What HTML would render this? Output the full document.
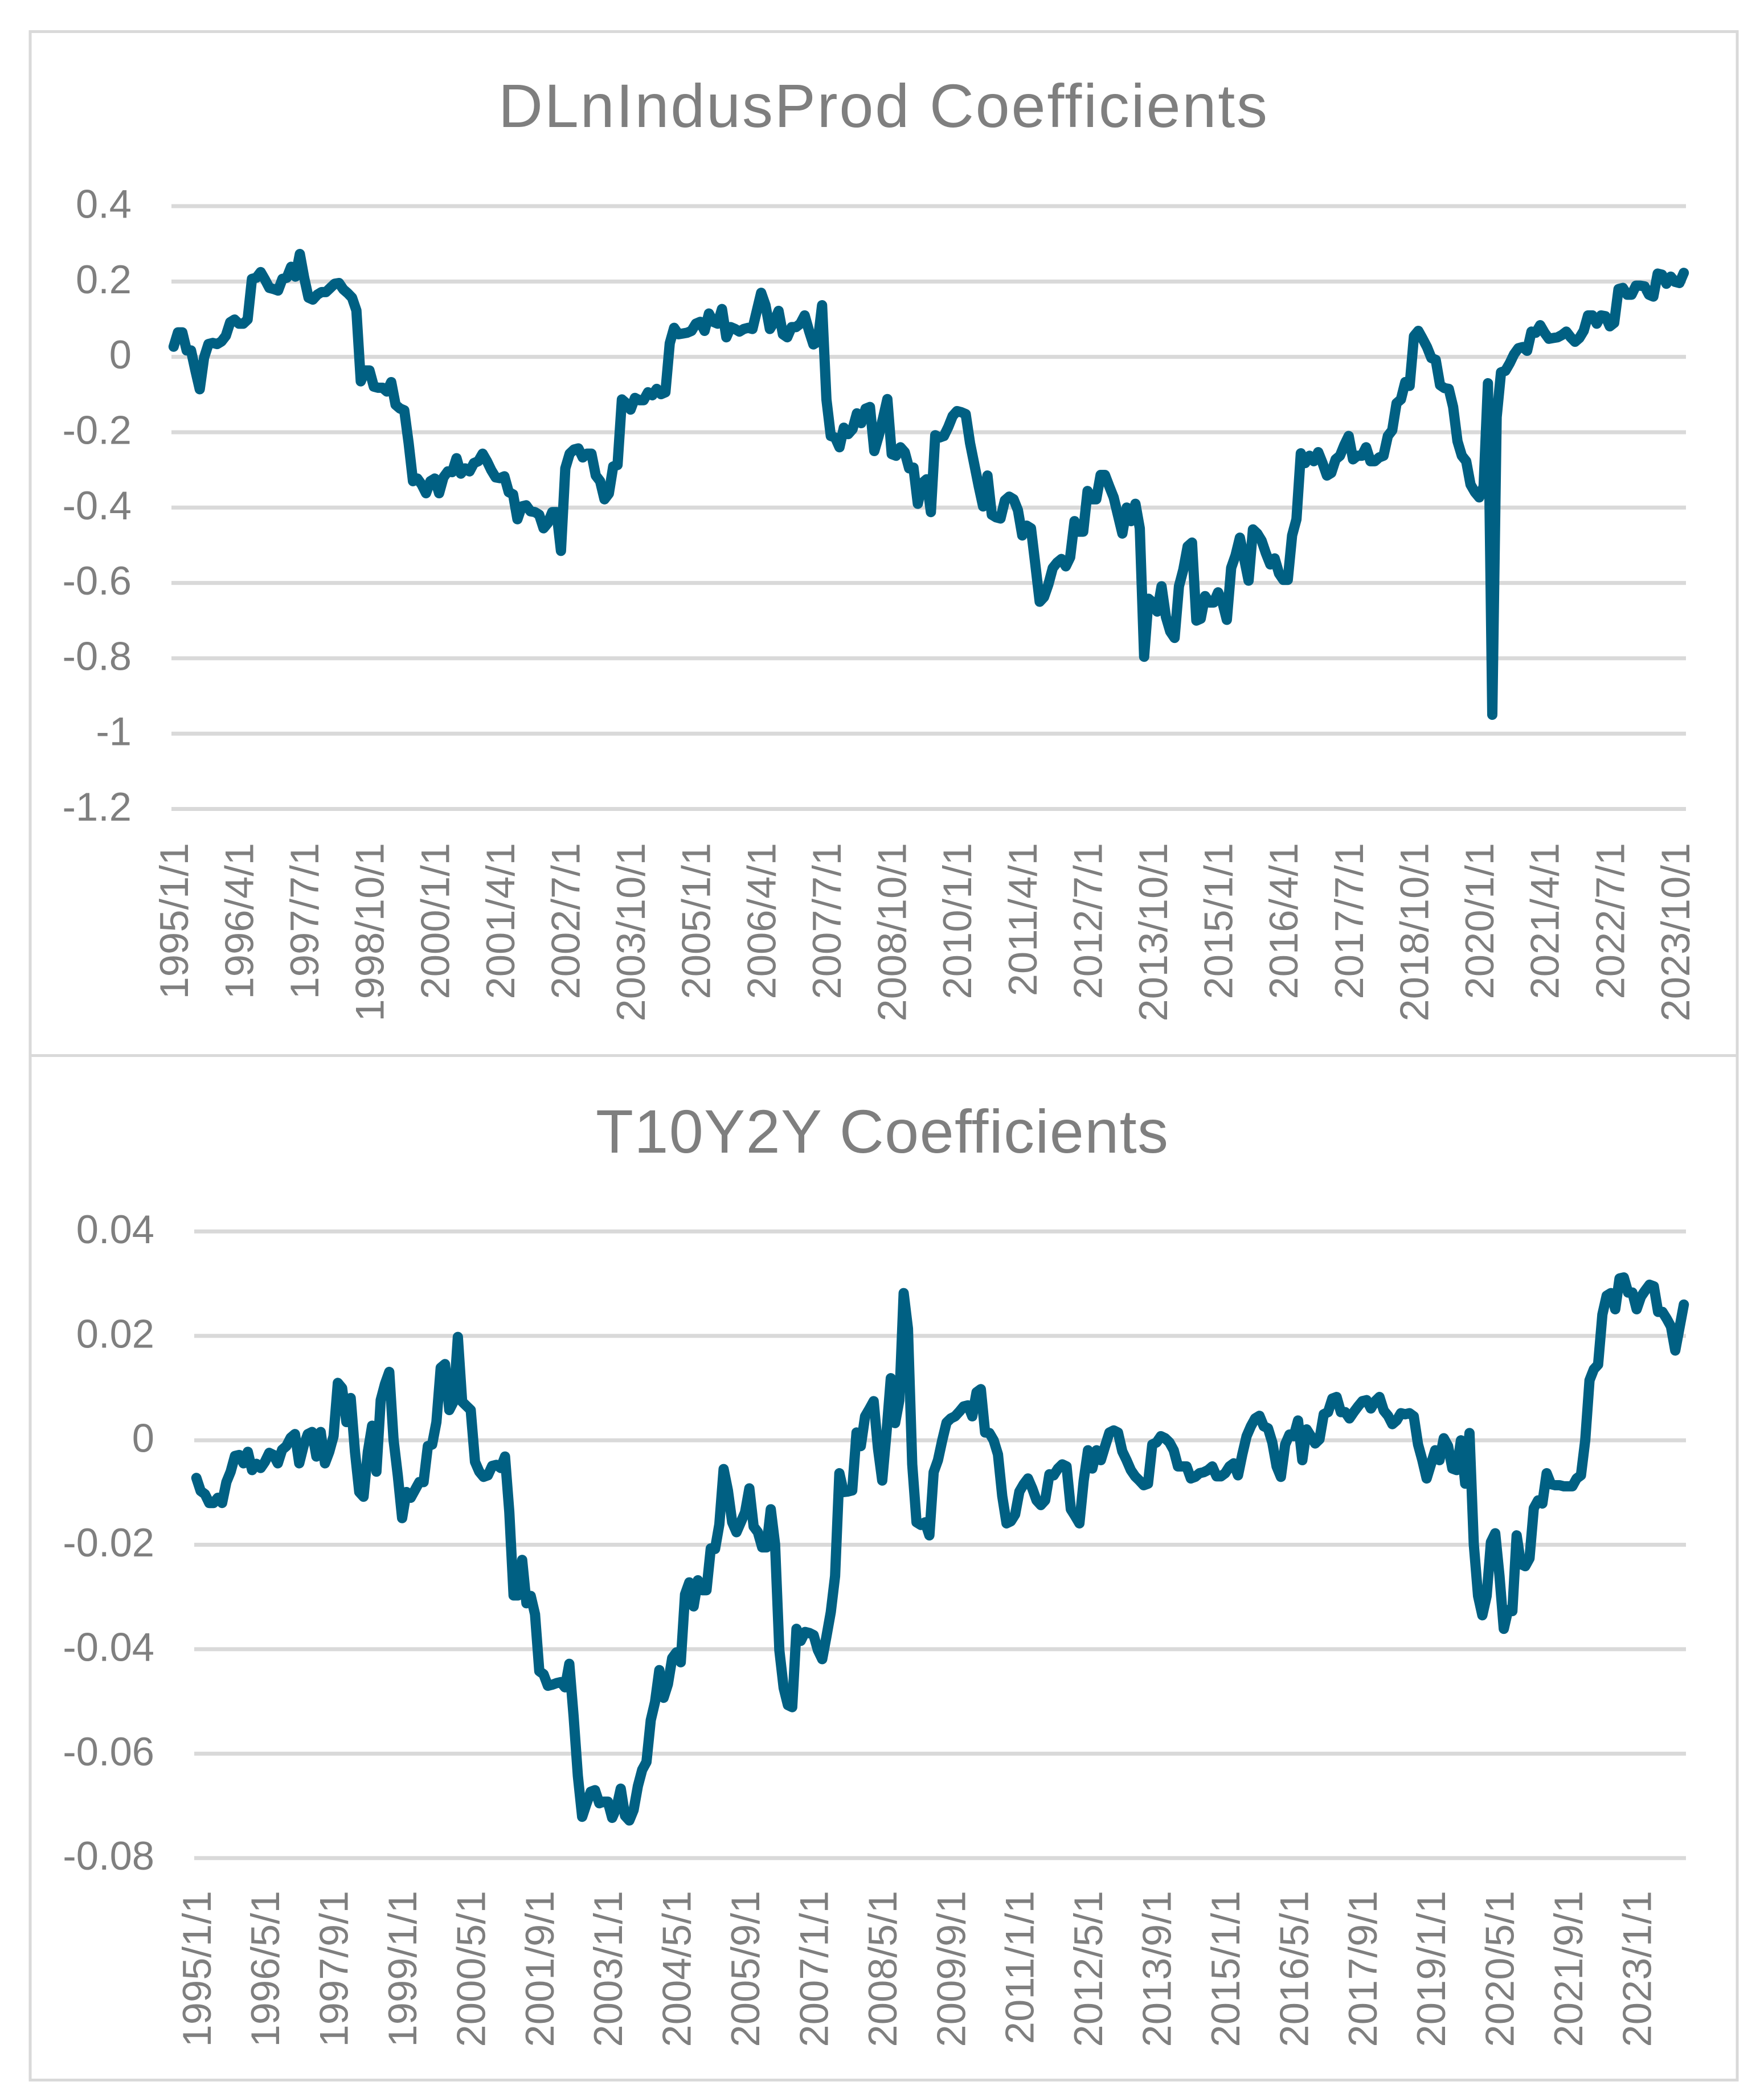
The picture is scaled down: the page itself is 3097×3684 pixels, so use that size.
<!DOCTYPE html>
<html lang="en">
<head>
<meta charset="utf-8">
<title>Coefficient charts</title>
<style>
html,body{margin:0;padding:0;background:#fff;}
svg{display:block;font-family:"Liberation Sans",Arial,sans-serif;}
text{fill:#7f7f7f;}
</style>
</head>
<body>
<svg id="figure" xmlns="http://www.w3.org/2000/svg" width="3097" height="3684" viewBox="0 0 3097 3684">
  <rect x="0" y="0" width="3097" height="3684" fill="#ffffff"/>
  <rect x="53" y="55.5" width="2997" height="1798" fill="none" stroke="#d9d9d9" stroke-width="5"/>
  <rect x="53" y="1853.5" width="2997" height="1799" fill="none" stroke="#d9d9d9" stroke-width="5"/>
  <text x="875" y="223" font-size="108" textLength="1350" lengthAdjust="spacing">DLnIndusProd Coefficients</text>
  <text x="1046" y="2024" font-size="108" textLength="1005" lengthAdjust="spacing">T10Y2Y Coefficients</text>
  <g id="chart-a"></g>
  <g id="chart-b"></g>
</svg>
<script>
const indusProdXTickLabels = ["1995/1/1","1996/4/1","1997/7/1","1998/10/1","2000/1/1","2001/4/1","2002/7/1","2003/10/1","2005/1/1","2006/4/1","2007/7/1","2008/10/1","2010/1/1","2011/4/1","2012/7/1","2013/10/1","2015/1/1","2016/4/1","2017/7/1","2018/10/1","2020/1/1","2021/4/1","2022/7/1","2023/10/1"];
const indusProdYTicks = [0.4,0.2,0,-0.2,-0.4,-0.6,-0.8,-1,-1.2];
const indusProdValues = [
.027,.065,.065,.017,.017,-.036,-.086,-.002,.034,.037,
.034,.041,.056,.092,.099,.088,.088,.099,.207,.21,
.225,.205,.183,.18,.176,.207,.21,.239,.213,.273,
.21,.157,.152,.165,.172,.172,.183,.194,.196,.179,
.169,.157,.123,-.065,-.036,-.036,-.079,-.082,-.082,-.092,
-.067,-.127,-.137,-.142,-.229,-.33,-.323,-.339,-.362,-.33,
-.323,-.362,-.32,-.304,-.306,-.269,-.31,-.296,-.304,-.282,
-.277,-.257,-.277,-.301,-.32,-.322,-.317,-.359,-.365,-.431,
-.397,-.394,-.41,-.412,-.419,-.455,-.441,-.412,-.412,-.515,
-.296,-.257,-.246,-.243,-.267,-.257,-.257,-.315,-.33,-.378,
-.363,-.291,-.287,-.113,-.123,-.14,-.109,-.115,-.115,-.094,
-.102,-.085,-.099,-.094,.036,.077,.06,.062,.064,.069,
.088,.093,.069,.115,.093,.088,.127,.052,.079,.074,
.067,.074,.077,.074,.122,.17,.137,.074,.093,.122,
.06,.052,.079,.079,.088,.11,.069,.033,.04,.137,
-.113,-.21,-.214,-.24,-.188,-.205,-.192,-.15,-.176,-.1375,
-.133,-.25,-.21,-.163,-.112,-.258,-.2625,-.24,-.253,-.296,
-.294,-.39,-.335,-.325,-.412,-.208,-.214,-.21,-.186,-.157,
-.144,-.147,-.152,-.229,-.2865,-.344,-.397,-.315,-.419,-.426,
-.429,-.381,-.371,-.378,-.407,-.474,-.448,-.455,-.551,-.65,
-.6375,-.604,-.5606,-.546,-.5365,-.556,-.532,-.436,-.464,-.464,
-.356,-.378,-.378,-.3135,-.3135,-.344,-.373,-.421,-.469,-.4,
-.436,-.39,-.455,-.796,-.642,-.652,-.676,-.609,-.69,-.729,
-.746,-.609,-.565,-.503,-.493,-.7,-.695,-.635,-.652,-.652,
-.625,-.652,-.698,-.56,-.527,-.48,-.5365,-.594,-.458,-.469,
-.488,-.522,-.551,-.535,-.575,-.592,-.592,-.474,-.431,-.256,
-.282,-.2625,-.277,-.253,-.282,-.315,-.308,-.272,-.2625,-.234,
-.21,-.272,-.2625,-.2625,-.24,-.277,-.277,-.267,-.2625,-.21,
-.195,-.123,-.113,-.067,-.077,.055,.069,.048,.026,-.003,
-.008,-.075,-.083,-.085,-.133,-.224,-.2625,-.277,-.339,-.359,
-.373,-.344,-.07,-.95,-.16,-.041,-.037,-.017,.007,.023,
.026,.016,.067,.064,.084,.064,.048,.05,.052,.058,
.067,.052,.04,.05,.069,.11,.11,.088,.11,.108,
.081,.09,.18,.183,.165,.165,.189,.189,.187,.165,
.16,.221,.218,.194,.213,.199,.196,.223
];

const spreadXTickLabels = ["1995/1/1","1996/5/1","1997/9/1","1999/1/1","2000/5/1","2001/9/1","2003/1/1","2004/5/1","2005/9/1","2007/1/1","2008/5/1","2009/9/1","2011/1/1","2012/5/1","2013/9/1","2015/1/1","2016/5/1","2017/9/1","2019/1/1","2020/5/1","2021/9/1","2023/1/1"];
const spreadYTicks = [0.04,0.02,0,-0.02,-0.04,-0.06,-0.08];
const spreadValues = [
-.0072,-.0097,-.0103,-.012,-.012,-.011,-.012,-.008,-.006,-.003,
-.0028,-.0044,-.0022,-.0057,-.0045,-.0053,-.0041,-.0024,-.0028,-.0044,
-.0018,-.0011,.0005,.0012,-.0044,-.0011,.0012,.0016,-.0031,.0016,
-.0044,-.0022,.0008,.011,.01,.0035,.0081,-.0022,-.0099,-.0108,
-.0022,.0028,-.006,.0077,.0108,.0131,.0001,-.0068,-.0149,-.0099,
-.011,-.0095,-.008,-.008,-.0011,-.0008,.0035,.0139,.0146,.0058,
.0074,.0198,.0074,.0066,.0058,-.0041,-.006,-.007,-.0067,-.0049,
-.0047,-.0053,-.0031,-.0137,-.0297,-.0297,-.0229,-.0312,-.0298,-.0333,
-.0442,-.0448,-.047,-.0468,-.0465,-.0463,-.0473,-.0428,-.0528,-.0643,
-.0721,-.0696,-.0673,-.067,-.0695,-.0692,-.0692,-.0723,-.0704,-.0667,
-.0719,-.0728,-.0708,-.0662,-.0631,-.0616,-.0536,-.0501,-.044,-.0493,
-.0467,-.0417,-.0406,-.0425,-.0295,-.0272,-.0318,-.0268,-.0287,-.0287,
-.0207,-.0208,-.0161,-.0055,-.0096,-.0157,-.0176,-.0157,-.0138,-.0092,
-.0165,-.0176,-.0205,-.0205,-.0132,-.0199,-.0402,-.0474,-.0507,-.0511,
-.0361,-.0384,-.0367,-.0369,-.0373,-.0402,-.0419,-.0375,-.0329,-.026,
-.0063,-.0099,-.0098,-.0096,.0015,-.0011,.0046,.006,.0075,-.0015,
-.0077,.0015,.0119,.0033,.0077,.0282,.0214,-.0046,-.0157,-.0162,
-.0157,-.0182,-.0061,-.0038,0,.0034,.0042,.0046,.0055,.0065,
.0067,.0046,.0092,.0098,.0015,.0014,0,-.0027,-.0107,-.0159,
-.0155,-.0142,-.0098,-.0084,-.0073,-.0092,-.0115,-.0124,-.0115,-.0065,
-.0067,-.0054,-.0046,-.005,-.0132,-.0145,-.0159,-.0077,-.0019,-.0054,
-.0019,-.0038,-.0011,.0015,.0019,.0015,-.0021,-.0038,-.0057,-.0069,
-.0077,-.0086,-.0083,-.0008,-.0004,.0008,.0004,-.0004,-.0019,-.005,
-.005,-.005,-.0073,-.007,-.0063,-.0061,-.0057,-.005,-.0069,-.0069,
-.0063,-.005,-.0044,-.0067,-.0027,.0008,.0027,.0042,.0047,.0027,
.0023,-.0004,-.005,-.007,-.0008,.0011,.0008,.0038,-.0038,.0021,
.0008,-.0006,.0002,.005,.0054,.008,.0083,.0054,.0054,.0042,
.0054,.0065,.0075,.0077,.0061,.0075,.0083,.0057,.0047,.0031,
.0038,.0052,.005,.0052,.0046,-.0008,-.0038,-.0073,-.0046,-.0019,
-.0038,.0004,-.0011,-.0054,-.0057,0,-.0083,.0014,-.0199,-.0298,
-.0335,-.0298,-.0195,-.0178,-.026,-.0361,-.0325,-.0327,-.0182,-.0237,
-.0241,-.0226,-.013,-.0115,-.0121,-.0063,-.0084,-.0086,-.0086,-.0088,
-.0088,-.0088,-.0073,-.0067,0,.0115,.0136,.0145,.0241,.0277,
.0282,.0251,.031,.0312,.0283,.0283,.0251,.0275,.0287,.0298,
.0295,.0246,.0246,.0233,.0218,.0172,.0216,.026
];

const NS = "http://www.w3.org/2000/svg";

function svgEl(tag, parent) {
  const el = document.createElementNS(NS, tag);
  parent.appendChild(el);
  return el;
}

function drawChart(group, values, yTicks, xTickLabels, labelStep, box) {
  const yMax = Math.max.apply(null, yTicks);
  const yMin = Math.min.apply(null, yTicks);
  const slot = (box.right - box.left) / values.length;
  const xScale = function (i) { return box.left + slot * (i + 0.5); };
  const yScale = function (v) { return box.top + (yMax - v) / (yMax - yMin) * (box.bottom - box.top); };

  yTicks.forEach(function (tick) {
    const y = yScale(tick);
    const grid = svgEl("line", group);
    
    
    grid.setAttribute("x1", box.left);
    grid.setAttribute("x2", box.right);
    grid.setAttribute("y1", y);
    grid.setAttribute("y2", y);
    grid.setAttribute("stroke", "#d9d9d9");
    grid.setAttribute("stroke-width", "7");

    const label = svgEl("text", group);
    
    
    label.setAttribute("x", box.yLabelRight);
    label.setAttribute("y", y + 20.5);
    label.setAttribute("text-anchor", "end");
    label.setAttribute("font-size", "70.5");
    label.textContent = String(tick);
  });

  xTickLabels.forEach(function (text, n) {
    const x = xScale(n * labelStep) + 25;
    const label = svgEl("text", group);
    
    
    label.setAttribute("transform", "translate(" + x + "," + box.xLabelTop + ") rotate(-90)");
    label.setAttribute("text-anchor", "end");
    label.setAttribute("font-size", "70.5");
    label.textContent = text;
  });

  const series = svgEl("polyline", group);
  
  
  series.setAttribute("points", values.map(function (v, i) {
    return xScale(i).toFixed(2) + "," + yScale(v).toFixed(2);
  }).join(" "));
  series.setAttribute("fill", "none");
  series.setAttribute("stroke", "#006083");
  series.setAttribute("stroke-width", "18");
  series.setAttribute("stroke-linejoin", "round");
  series.setAttribute("stroke-linecap", "round");
}

drawChart(document.getElementById("chart-a"), indusProdValues, indusProdYTicks, indusProdXTickLabels, 15,
  { left: 301, right: 2960, top: 362, bottom: 1420.5, yLabelRight: 231, xLabelTop: 1480 });
drawChart(document.getElementById("chart-b"), spreadValues, spreadYTicks, spreadXTickLabels, 16,
  { left: 341, right: 2960, top: 2162.4, bottom: 3262.7, yLabelRight: 271, xLabelTop: 3320 });
</script>
</body>
</html>
